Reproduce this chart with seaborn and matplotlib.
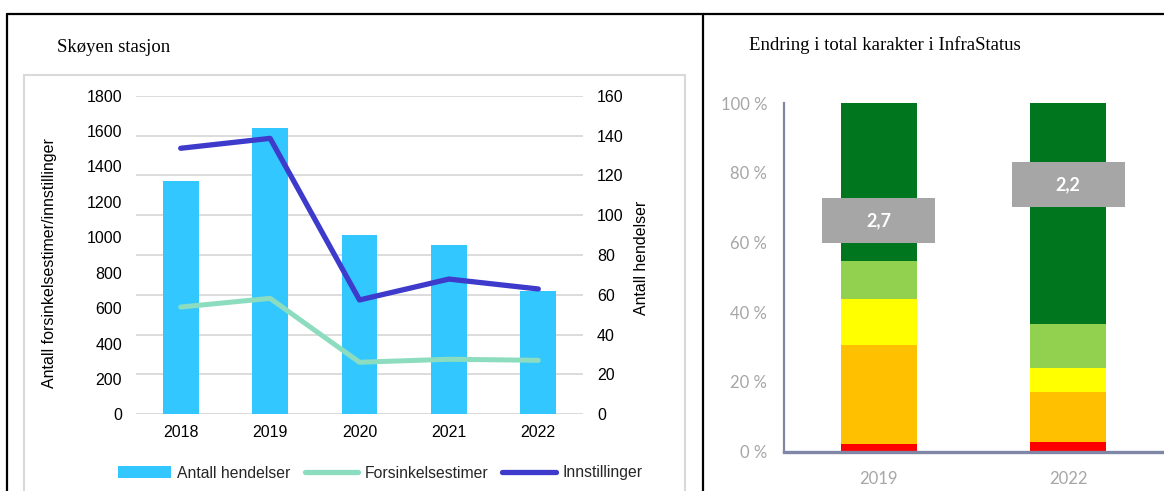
import matplotlib
matplotlib.use("Agg")
import matplotlib.pyplot as plt
import seaborn as sns
import numpy as np
import pandas as pd
from matplotlib.patches import Rectangle, Patch
from matplotlib.lines import Line2D

# ---------------- data ----------------
years = ["2018", "2019", "2020", "2021", "2022"]
antall_hendelser = [117, 144, 90, 85, 62]
forsinkelsestimer = [606, 655, 294, 311, 305]
innstillinger = [1503, 1559, 646, 764, 708]

left_ticks = [0, 200, 400, 600, 800, 1000, 1200, 1400, 1600, 1800]
right_ticks = [0, 20, 40, 60, 80, 100, 120, 140, 160]

status_years = ["2019", "2022"]
# share per grade, bottom to top
red = [2.1, 2.9]
orange = [28.5, 14.3]
yellow = [13.2, 6.7]
lightgreen = [10.9, 12.7]
darkgreen = [45.3, 63.4]
total_score = ["2,7", "2,2"]
score_level = [66.3, 76.5]
pct_ticks = [0, 20, 40, 60, 80, 100]
pct_labels = ["0 %", "20 %", "40 %", "60 %", "80 %", "100 %"]

# ---------------- style ----------------
sns.set_theme(style="white")
plt.rcParams["font.family"] = ["Liberation Sans", "DejaVu Sans"]

W, H = 1164, 491
fig = plt.figure(figsize=(W / 100, H / 100), dpi=100)

def fx(px):
    return px / W

def fy(py):
    return 1 - py / H

# frame lines
fig.add_artist(Line2D([fx(7), 1], [fy(14), fy(14)], color="black", lw=1.6))
fig.add_artist(Line2D([fx(7), fx(7)], [0, fy(14)], color="black", lw=1.6))
fig.add_artist(Line2D([fx(703), fx(703)], [0, fy(14)], color="black", lw=1.6))
# inner grey chart box
fig.add_artist(Rectangle((fx(24), fy(500)), fx(685) - fx(24), fy(75) - fy(500),
                         fill=False, edgecolor="#d9d9d9", lw=1.5))

fig.text(fx(57), fy(47), "Skøyen stasjon", family="Liberation Serif", fontsize=13.5,
         va="center", ha="left", color="black")
fig.text(fx(749), fy(45), "Endring i total karakter i InfraStatus", family="Liberation Serif",
         fontsize=13.5, va="center", ha="left", color="black")

# ---------------- left chart ----------------
axL = fig.add_axes([fx(136), fy(414.3), fx(583) - fx(136), fy(95.7) - fy(414.3)])
axR = axL.twinx()

df = pd.DataFrame({"year": years, "hendelser": antall_hendelser,
                   "forsinkelse": forsinkelsestimer, "innstillinger": innstillinger,
                   "pos": np.arange(len(years))})

sns.barplot(data=df, x="year", y="hendelser", ax=axR, color="#33C7FF", width=0.4,
            saturation=1, edgecolor="none")
axR.set_ylim(0, 160)
axR.set_yticks(right_ticks)
axR.set_ylabel("Antall hendelser", fontsize=11.4, color="black")
axR.yaxis.set_label_coords(1.114, 0.49)
axR.tick_params(axis="y", length=0, pad=10, labelsize=11.5, colors="black")

sns.lineplot(data=df, x="pos", y="forsinkelse", ax=axL, color="#8CDDBF", lw=3.6,
             solid_capstyle="round")
sns.lineplot(data=df, x="pos", y="innstillinger", ax=axL, color="#3E3ACB", lw=3.8,
             solid_capstyle="round")
axL.set_ylim(0, 1800)
axL.set_yticks(left_ticks)
axL.set_xlim(-0.5, len(years) - 0.5)
axR.set_xlim(-0.5, len(years) - 0.5)
axL.set_xticks(np.arange(len(years)))
axL.set_xticklabels(years)
axL.set_xlabel("")
axL.set_ylabel("Antall forsinkelsestimer/innstillinger", fontsize=11.5, color="black")
axL.yaxis.set_label_coords(-0.177, 0.475)
axL.tick_params(axis="y", length=0, pad=10, labelsize=11.5, colors="black")
axL.tick_params(axis="x", length=0, pad=8, labelsize=11.5, colors="black")
axR.set_xlabel("")
axR.tick_params(axis="x", length=0, labelbottom=False)

# grid on the bottom axes (bars)
axR.grid(axis="y", color="#d9d9d9", lw=1.3)
axR.set_axisbelow(True)
axL.grid(False)
axL.set_zorder(axR.get_zorder() + 1)
axL.patch.set_visible(False)
for a in (axL, axR):
    for s in a.spines.values():
        s.set_visible(False)

handles = [Patch(facecolor="#33C7FF", edgecolor="none"),
           Line2D([], [], color="#8CDDBF", lw=3.8, solid_capstyle="round"),
           Line2D([], [], color="#3E3ACB", lw=3.8, solid_capstyle="round")]
fig.legend(handles, ["Antall hendelser", "Forsinkelsestimer", "Innstillinger"],
           loc="center", bbox_to_anchor=(fx(380), fy(473)), ncol=3, frameon=False,
           fontsize=11.3, handlelength=3.4, handleheight=0.8, handletextpad=0.4,
           columnspacing=0.9, borderaxespad=0)

# ---------------- right chart ----------------
ax2 = fig.add_axes([fx(784), fy(451.7), fx(1163) - fx(784), fy(103) - fy(451.7)])
layers = [("red", red, "#FF0000"), ("orange", orange, "#FFC000"),
          ("yellow", yellow, "#FFFF00"), ("lightgreen", lightgreen, "#92D050"),
          ("darkgreen", darkgreen, "#00771F")]
cum = np.cumsum(np.array([l[1] for l in layers]), axis=0)
for i in range(len(layers) - 1, -1, -1):
    d = pd.DataFrame({"year": status_years, "v": cum[i]})
    sns.barplot(data=d, x="year", y="v", ax=ax2, color=layers[i][2], width=0.4,
                saturation=1, edgecolor="none")

box_w, box_h = 0.595, 12.9
for i, (lab, lvl) in enumerate(zip(total_score, score_level)):
    ax2.add_patch(Rectangle((i - box_w / 2, lvl - box_h / 2), box_w, box_h,
                            facecolor="#A6A6A6", edgecolor="none", zorder=5))
    ax2.text(i, lvl, lab, ha="center", va="center", color="white", fontsize=13,
             fontweight="bold", family=["Lato", "DejaVu Sans"], zorder=6)

ax2.set_xlim(-0.5, 1.5)
ax2.set_ylim(0, 100)
ax2.set_yticks(pct_ticks)
ax2.set_yticklabels(pct_labels)
ax2.set_xlabel("")
ax2.set_ylabel("")
axis_col = "#7F86A6"
for s in ("top", "right"):
    ax2.spines[s].set_visible(False)
ax2.spines["left"].set_color(axis_col)
ax2.spines["left"].set_linewidth(1.6)
ax2.spines["bottom"].set_color(axis_col)
ax2.spines["bottom"].set_linewidth(2.4)
ax2.tick_params(axis="y", length=5, width=1.6, color=axis_col, labelcolor="#A6A6A6",
                labelsize=12, pad=7)
ax2.tick_params(axis="x", length=0, labelcolor="#A6A6A6", labelsize=12, pad=14)
for t in ax2.get_yticklabels() + ax2.get_xticklabels():
    t.set_family(["Lato", "DejaVu Sans"])
ax2.patch.set_visible(False)

fig.savefig("out.png", dpi=100)
